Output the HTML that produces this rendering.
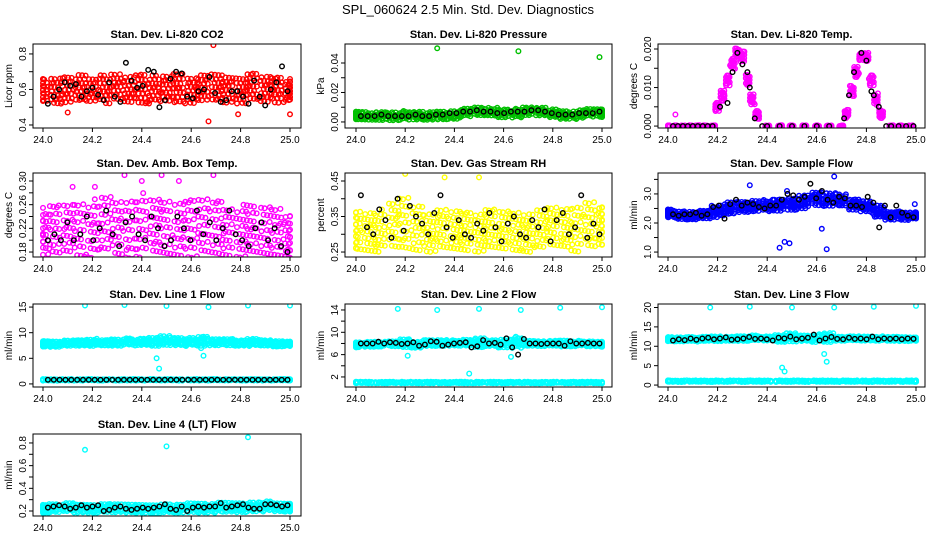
<!DOCTYPE html>
<html><head><meta charset="utf-8"><style>
body{margin:0;background:#fff}
svg{display:block;font-family:"Liberation Sans",sans-serif}
</style></head><body>
<svg id="c" width="936" height="540" xmlns="http://www.w3.org/2000/svg">
<text x="468" y="14" text-anchor="middle" font-size="13">SPL_060624  2.5 Min. Std. Dev. Diagnostics</text>
</svg>
<script>
// ---- data (cluster centres: x, y-mid, y-spread; black points; outliers) ----
const co2CX=[24.0,24.05,24.1,24.15,24.2,24.25,24.3,24.35,24.4,24.45,24.5,24.55,24.6,24.65,24.7,24.75,24.8,24.85,24.9,24.95,25.0];
const co2CY=[0.60,0.60,0.59,0.61,0.60,0.60,0.61,0.60,0.61,0.60,0.60,0.61,0.60,0.60,0.61,0.60,0.60,0.61,0.60,0.60,0.60];
const co2CS=[0.07,0.08,0.08,0.08,0.07,0.08,0.08,0.08,0.09,0.08,0.08,0.09,0.08,0.08,0.08,0.08,0.08,0.08,0.08,0.08,0.06];
const co2Black=[0.52,0.56,0.60,0.64,0.62,0.63,0.56,0.59,0.61,0.57,0.54,0.64,0.56,0.53,0.75,0.65,0.61,0.62,0.71,0.70,0.50,0.54,0.66,0.70,0.69,0.56,0.55,0.59,0.60,0.67,0.58,0.53,0.54,0.59,0.59,0.56,0.52,0.65,0.56,0.51,0.60,0.64,0.73,0.59];
const co2OutX=[24.69,24.67,25.0,24.1,24.79];
const co2OutY=[0.85,0.42,0.46,0.47,0.46];

const prCX=[24.0,24.05,24.1,24.15,24.2,24.25,24.3,24.35,24.4,24.45,24.5,24.55,24.6,24.65,24.7,24.75,24.8,24.85,24.9,24.95,25.0];
const prCY=[0.004,0.004,0.004,0.004,0.0045,0.004,0.004,0.0045,0.005,0.006,0.007,0.007,0.006,0.006,0.007,0.007,0.006,0.005,0.005,0.006,0.006];
const prCS=[0.003,0.003,0.003,0.003,0.003,0.003,0.003,0.003,0.003,0.003,0.003,0.003,0.003,0.003,0.003,0.003,0.003,0.003,0.003,0.003,0.003];
const prBlack=[0.004,0.004,0.004,0.005,0.004,0.004,0.004,0.004,0.005,0.004,0.004,0.005,0.005,0.006,0.006,0.007,0.007,0.008,0.007,0.007,0.006,0.006,0.007,0.007,0.007,0.008,0.008,0.007,0.006,0.005,0.005,0.005,0.006,0.006,0.006,0.007];
const prOutX=[24.33,24.66,24.99];
const prOutY=[0.050,0.048,0.044];

const tpCX=[24.0,24.03,24.06,24.09,24.12,24.15,24.18,24.2,24.22,24.24,24.26,24.28,24.3,24.32,24.34,24.36,24.4,24.45,24.5,24.55,24.6,24.65,24.7,24.72,24.74,24.76,24.78,24.8,24.82,24.84,24.86,24.9,24.94,24.98];
const tpCY=[0,0,0,0,0,0,0,0.005,0.008,0.012,0.016,0.019,0.018,0.012,0.007,0.003,0,0,0,0,0,0,0,0.003,0.009,0.014,0.018,0.018,0.012,0.007,0.003,0,0,0];
const tpCS=[0.0002,0.0002,0.0002,0.0002,0.0002,0.0002,0.0002,0.0012,0.0015,0.0015,0.0015,0.0012,0.0015,0.0015,0.0015,0.0012,0.0002,0.0002,0.0002,0.0002,0.0002,0.0002,0.0002,0.0012,0.0015,0.0015,0.001,0.0012,0.0015,0.0015,0.0012,0.0002,0.0002,0.0002];
const tpBlackX=[24.02,24.04,24.06,24.08,24.1,24.12,24.14,24.16,24.18,24.21,24.24,24.26,24.28,24.3,24.32,24.33,24.35,24.38,24.4,24.45,24.5,24.55,24.6,24.65,24.71,24.73,24.75,24.78,24.8,24.82,24.83,24.85,24.88,24.9,24.93,24.96,24.99];
const tpBlackY=[0,0,0,0,0,0,0,0,0,0.005,0.006,0.014,0.019,0.016,0.014,0.010,0.002,0,0,0,0,0,0,0,0.002,0.008,0.014,0.019,0.017,0.009,0.008,0.005,0,0,0,0,0];
const tpOutX=[24.03];
const tpOutY=[0.003];

const abCX=[24.0,24.05,24.1,24.15,24.2,24.25,24.3,24.35,24.4,24.45,24.5,24.55,24.6,24.65,24.7,24.75,24.8,24.85,24.9,24.95,25.0];
const abCY=[0.215,0.215,0.22,0.22,0.22,0.225,0.22,0.22,0.225,0.22,0.22,0.22,0.225,0.22,0.22,0.215,0.215,0.215,0.215,0.215,0.21];
const abCS=[0.04,0.045,0.045,0.05,0.05,0.05,0.05,0.055,0.055,0.05,0.05,0.05,0.055,0.05,0.05,0.045,0.045,0.045,0.045,0.045,0.04];
const abBlack=[0.20,0.21,0.20,0.23,0.20,0.21,0.24,0.20,0.22,0.25,0.21,0.19,0.23,0.24,0.21,0.20,0.24,0.22,0.19,0.20,0.24,0.22,0.20,0.25,0.21,0.23,0.20,0.22,0.25,0.21,0.20,0.19,0.22,0.23,0.20,0.22,0.19,0.18];
const abOutX=[24.33,24.4,24.48,24.55,24.69,24.12,24.21];
const abOutY=[0.31,0.30,0.31,0.30,0.31,0.29,0.29];

const rhCX=[24.0,24.05,24.1,24.15,24.2,24.25,24.3,24.35,24.4,24.45,24.5,24.55,24.6,24.65,24.7,24.75,24.8,24.85,24.9,24.95,25.0];
const rhCY=[0.31,0.31,0.31,0.32,0.33,0.32,0.31,0.31,0.31,0.31,0.31,0.31,0.31,0.31,0.31,0.31,0.32,0.32,0.32,0.32,0.32];
const rhCS=[0.06,0.06,0.06,0.07,0.08,0.07,0.06,0.06,0.06,0.06,0.06,0.06,0.06,0.06,0.06,0.06,0.06,0.06,0.07,0.07,0.06];
const rhBlack=[0.41,0.32,0.30,0.37,0.34,0.29,0.40,0.31,0.38,0.35,0.33,0.30,0.36,0.41,0.32,0.29,0.34,0.30,0.29,0.33,0.31,0.36,0.32,0.28,0.33,0.35,0.30,0.29,0.34,0.32,0.37,0.28,0.34,0.36,0.30,0.32,0.41,0.29,0.33,0.30];
const rhOutX=[24.2,24.5,24.36];
const rhOutY=[0.47,0.46,0.46];

const sfCX=[24.0,24.05,24.1,24.15,24.2,24.25,24.3,24.35,24.4,24.45,24.5,24.55,24.6,24.65,24.7,24.75,24.8,24.85,24.9,24.95,25.0];
const sfCY=[2.35,2.25,2.25,2.3,2.4,2.5,2.55,2.6,2.6,2.6,2.65,2.75,2.8,2.8,2.8,2.65,2.55,2.4,2.25,2.25,2.25];
const sfCS=[0.15,0.15,0.15,0.15,0.2,0.22,0.2,0.2,0.2,0.22,0.22,0.25,0.25,0.25,0.22,0.2,0.2,0.22,0.15,0.15,0.12];
const sfBlack=[2.3,2.25,2.3,2.3,2.35,2.25,2.3,2.55,2.6,2.15,2.65,2.8,2.6,2.7,2.65,2.55,2.5,2.6,2.6,2.8,3.0,2.95,2.8,2.9,3.35,2.85,3.1,2.8,2.7,2.9,2.85,2.6,2.6,2.55,2.9,2.7,1.85,2.6,2.2,2.6,2.35,2.25,2.2];
const sfOutX=[24.33,24.45,24.47,24.49,24.62,24.64,24.67,24.995,24.48];
const sfOutY=[3.3,1.15,1.35,1.3,1.8,1.1,3.6,2.65,3.1];

const l1CX=[24.0,24.05,24.1,24.15,24.2,24.25,24.3,24.35,24.4,24.45,24.5,24.55,24.6,24.65,24.7,24.75,24.8,24.85,24.9,24.95,25.0];
const l1CY=[7.8,7.8,7.9,8.0,8.1,8.0,8.1,8.2,8.2,8.3,8.4,8.3,8.2,8.3,8.2,8.1,8.0,8.1,8.0,7.9,7.8];
const l1CS=[0.6,0.6,0.6,0.6,0.7,0.6,0.7,0.7,0.7,0.9,1.0,0.8,0.8,1.0,0.7,0.7,0.6,0.7,0.6,0.6,0.5];
const l1LowY=[0.8,0.8,0.8,0.8,0.8,0.8,0.8,0.8,0.8,0.8,0.8,0.8,0.8,0.8,0.8,0.8,0.8,0.8,0.8,0.8,0.8];
const l1Black=[0.8,0.8,0.8,0.8,0.8,0.8,0.8,0.8,0.8,0.8,0.8,0.8,0.8,0.8,0.8,0.8,0.8,0.8,0.8,0.8,0.8,0.8,0.8,0.8,0.8,0.8,0.8,0.8,0.8,0.8,0.8,0.8,0.8,0.8,0.8,0.8,0.8,0.8,0.8,0.8,0.8,0.8];
const l1OutX=[24.17,24.33,24.5,24.67,24.83,25.0,24.47,24.46,24.65,24.64];
const l1OutY=[15.3,15.4,15.2,15.0,15.3,15.3,3.0,5.0,5.5,7.0];

const l2CX=l1CX;
const l2CY=[7.8,7.8,7.9,8.0,8.0,7.8,8.0,8.1,8.1,8.1,8.2,8.0,8.0,8.2,8.0,8.0,8.0,8.0,8.0,7.9,7.9];
const l2CS=[0.5,0.5,0.5,0.5,0.8,0.6,0.6,0.6,0.5,0.6,0.9,0.6,0.8,1.0,0.5,0.5,0.5,0.6,0.5,0.5,0.5];
const l2LowY=[1.0,1.0,1.0,1.0,1.0,1.0,1.0,1.0,1.0,1.0,1.0,1.0,1.0,1.0,1.0,1.0,1.0,1.0,1.0,1.0,1.0];
const l2Black=[8.0,8.0,8.0,8.3,8.0,8.2,8.1,7.9,8.0,8.2,7.6,7.8,8.4,8.3,7.6,7.8,8.0,8.1,8.2,7.3,7.5,8.6,8.0,8.1,7.8,8.9,7.3,6.0,8.8,8.0,8.0,7.9,8.0,8.0,8.0,7.6,8.4,8.0,8.0,8.1,8.0,8.0];
const l2OutX=[24.17,24.33,24.5,24.67,24.83,25.0,24.46,24.21,24.63];
const l2OutY=[14.2,14.0,14.2,14.0,14.4,14.5,2.6,5.8,5.6];

const l3CX=l1CX;
const l3CY=[11.8,11.8,11.8,11.9,12.0,11.9,12.0,12.1,12.0,12.1,12.2,12.1,12.1,12.2,12.0,12.0,12.0,12.0,11.9,11.9,11.8];
const l3CS=[0.6,0.6,0.6,0.6,0.7,0.6,0.7,0.7,0.6,1.0,1.2,0.8,1.0,1.3,0.6,0.6,0.6,0.6,0.6,0.6,0.5];
const l3LowY=[1.0,1.0,1.0,1.0,1.0,1.0,1.0,1.0,1.0,1.0,1.0,1.0,1.0,1.0,1.0,1.0,1.0,1.0,1.0,1.0,1.0];
const l3Black=[11.5,11.8,11.6,12.0,11.7,12.0,12.2,11.8,12.0,12.3,11.7,11.8,12.0,12.4,11.9,12.0,11.8,11.5,12.2,12.0,12.5,11.8,12.0,12.2,13.0,11.5,12.0,12.4,11.9,11.8,12.2,11.9,12.0,11.8,12.5,11.8,12.0,11.9,12.0,11.8,12.0,11.9];
const l3OutX=[24.17,24.33,24.5,24.67,24.83,25.0,24.47,24.46,24.64,24.63];
const l3OutY=[20.0,20.2,20.0,20.0,20.2,20.4,3.5,4.5,6.0,8.0];

const l4CX=l1CX;
const l4CY=[0.22,0.23,0.23,0.22,0.22,0.23,0.22,0.22,0.22,0.22,0.22,0.22,0.23,0.23,0.23,0.23,0.23,0.24,0.24,0.23,0.23];
const l4CS=[0.04,0.04,0.04,0.04,0.04,0.04,0.04,0.04,0.04,0.04,0.04,0.04,0.045,0.045,0.045,0.045,0.045,0.045,0.045,0.04,0.04];
const l4Black=[0.23,0.24,0.25,0.24,0.22,0.23,0.25,0.23,0.24,0.25,0.20,0.21,0.23,0.24,0.22,0.21,0.22,0.23,0.22,0.23,0.24,0.26,0.22,0.21,0.24,0.20,0.23,0.24,0.23,0.24,0.24,0.27,0.23,0.24,0.25,0.26,0.23,0.22,0.22,0.26,0.26,0.25,0.24,0.25];
const l4OutX=[24.17,24.5,24.83];
const l4OutY=[0.74,0.77,0.85];

// ---- layout ----
const svg=document.getElementById('c');
const NS='http://www.w3.org/2000/svg';
const cols=[{bl:33,br:301,x0:43,x1:290},{bl:345,br:612,x0:356,x1:602},{bl:658,br:925,x0:668,x1:916}];
const rows=[{t:44,b:128},{t:173,b:257},{t:304,b:387},{t:434,b:516}];
const xTicks=[24.0,24.2,24.4,24.6,24.8,25.0];
const xLabels=['24.0','24.2','24.4','24.6','24.8','25.0'];
// scatter texture pattern (style only)
const JN=997;const jit=[];
for(let i=0;i<JN;i++){jit.push([((i*0.7548776662+0.5)%1)*2-1,((i*0.5698402910+0.5)%1)*2-1]);}

const panels=[
 {id:'co2',c:0,r:0,title:'Stan. Dev. Li-820 CO2',yl:'Licor ppm',ylim:[0.383,0.856],ticks:[0.4,0.5,0.6,0.7,0.8],labs:['0.4','','0.6','','0.8'],col:'#ff0000',cx:co2CX,cy:co2CY,cs:co2CS,bx:null,by:co2Black,ox:co2OutX,oy:co2OutY,dens:24},
 {id:'pressure',c:1,r:0,title:'Stan. Dev. Li-820 Pressure',yl:'kPa',ylim:[-0.0041,0.0529],ticks:[0,0.01,0.02,0.03,0.04],labs:['0.00','','0.02','','0.04'],col:'#00c000',cx:prCX,cy:prCY,cs:prCS,bx:null,by:prBlack,ox:prOutX,oy:prOutY,dens:20},
 {id:'temp',c:2,r:0,title:'Stan. Dev. Li-820 Temp.',yl:'degrees C',ylim:[-0.0005,0.0213],ticks:[0,0.005,0.01,0.015,0.02],labs:['0.000','','0.010','','0.020'],col:'#ff00ff',cx:tpCX,cy:tpCY,cs:tpCS,bx:tpBlackX,by:tpBlackY,ox:tpOutX,oy:tpOutY,dens:14,xw:0.02},
 {id:'ambbox',c:0,r:1,title:'Stan. Dev. Amb. Box Temp.',yl:'degrees C',ylim:[0.1716,0.3135],ticks:[0.18,0.2,0.22,0.24,0.26,0.28,0.3],labs:['0.18','','0.22','','0.26','','0.30'],col:'#ff00ff',cx:abCX,cy:abCY,cs:abCS,bx:null,by:abBlack,ox:abOutX,oy:abOutY,dens:22},
 {id:'gasrh',c:1,r:1,title:'Stan. Dev. Gas Stream RH',yl:'percent',ylim:[0.236,0.4725],ticks:[0.25,0.3,0.35,0.4,0.45],labs:['0.25','','0.35','','0.45'],col:'#ffff00',cx:rhCX,cy:rhCY,cs:rhCS,bx:null,by:rhBlack,ox:rhOutX,oy:rhOutY,dens:22},
 {id:'sampleflow',c:2,r:1,title:'Stan. Dev. Sample Flow',yl:'ml/min',ylim:[0.83,3.72],ticks:[1,1.5,2,2.5,3,3.5],labs:['1.0','','2.0','','3.0',''],col:'#0000ff',cx:sfCX,cy:sfCY,cs:sfCS,bx:null,by:sfBlack,ox:sfOutX,oy:sfOutY,dens:24},
 {id:'line1',c:0,r:2,title:'Stan. Dev. Line 1 Flow',yl:'ml/min',ylim:[-0.6,15.6],ticks:[0,5,10,15],labs:['0','5','10','15'],col:'#00ffff',cx:l1CX,cy:l1CY,cs:l1CS,low:l1LowY,bx:null,by:l1Black,ox:l1OutX,oy:l1OutY,dens:22},
 {id:'line2',c:1,r:2,title:'Stan. Dev. Line 2 Flow',yl:'ml/min',ylim:[0.2,15.07],ticks:[2,4,6,8,10,12,14],labs:['2','','6','','10','','14'],col:'#00ffff',cx:l2CX,cy:l2CY,cs:l2CS,low:l2LowY,bx:null,by:l2Black,ox:l2OutX,oy:l2OutY,dens:22},
 {id:'line3',c:2,r:2,title:'Stan. Dev. Line 3 Flow',yl:'ml/min',ylim:[-0.5,20.9],ticks:[0,5,10,15,20],labs:['0','5','10','15','20'],col:'#00ffff',cx:l3CX,cy:l3CY,cs:l3CS,low:l3LowY,bx:null,by:l3Black,ox:l3OutX,oy:l3OutY,dens:22},
 {id:'line4',c:0,r:3,title:'Stan. Dev. Line 4 (LT) Flow',yl:'ml/min',ylim:[0.156,0.879],ticks:[0.2,0.3,0.4,0.5,0.6,0.7,0.8],labs:['0.2','','0.4','','0.6','','0.8'],col:'#00ffff',cx:l4CX,cy:l4CY,cs:l4CS,bx:null,by:l4Black,ox:l4OutX,oy:l4OutY,dens:22}
];

function mk(tag,attrs,parent){const e=document.createElementNS(NS,tag);for(const k in attrs)e.setAttribute(k,attrs[k]);(parent||svg).appendChild(e);return e;}

panels.forEach((p,pi)=>{
  const C=cols[p.c],R=rows[p.r];
  const g=mk('g',{});
  
  
  const X=v=>C.x0+(v-24)*(C.x1-C.x0);
  const Y=v=>R.b-(v-p.ylim[0])/(p.ylim[1]-p.ylim[0])*(R.b-R.t);
  const clip='cl'+p.id;
  const cp=mk('clipPath',{id:clip},g);mk('rect',{x:C.bl,y:R.t,width:C.br-C.bl,height:R.b-R.t},cp);
  const pts=mk('g',{'clip-path':'url(#'+clip+')'},g);
  
  
  const circ=(x,y,col,name)=>{const e=mk('circle',{cx:X(x).toFixed(1),cy:Y(y).toFixed(1),r:2.3,fill:'none',stroke:col,'stroke-width':1.4},pts);
    
    };
  const xw=p.xw||0.05;
  let n=pi*131;
  p.cx.forEach((cx,i)=>{
    for(let k=0;k<p.dens;k++){const j=jit[(n++)%JN];
      const xx=Math.max(24,Math.min(25,cx+j[0]*xw/2));
      circ(xx,p.cy[i]+j[1]*p.cs[i],p.col,'cloud-point');}
    if(p.low){for(let k=0;k<14;k++){const j=jit[(n++)%JN];
      circ(Math.max(24,Math.min(25,cx+j[0]*xw/2)),p.low[i]+j[1]*0.15*(p.ylim[1]-p.ylim[0])/15,p.col,'low-band-point');}}
  });
  p.ox.forEach((x,i)=>circ(x,p.oy[i],p.col,'outlier-point'));
  p.by.forEach((v,i)=>{const x=p.bx?p.bx[i]:24.02+i*(0.97/(p.by.length-1));circ(x,v,'#000','black-point');});
  const box=mk('rect',{x:C.bl,y:R.t,width:C.br-C.bl,height:R.b-R.t,fill:'none',stroke:'#000','stroke-width':1},g);
  
  
  const t=mk('text',{x:(C.bl+C.br)/2,y:R.t-6,'text-anchor':'middle','font-size':11,'font-weight':'bold'},g);t.textContent=p.title;
  
  
  mk('line',{x1:X(24),x2:X(25),y1:R.b,y2:R.b,stroke:'#000'},g);
  xTicks.forEach((v,i)=>{mk('line',{x1:X(v),x2:X(v),y1:R.b,y2:R.b+4,stroke:'#000'},g);
    const l=mk('text',{x:X(v),y:R.b+15,'text-anchor':'middle','font-size':10},g);l.textContent=xLabels[i];
    
    });
  mk('line',{x1:C.bl,x2:C.bl,y1:Y(p.ticks[0]),y2:Y(p.ticks[p.ticks.length-1]),stroke:'#000'},g);
  p.ticks.forEach((v,i)=>{const y=Y(v);mk('line',{x1:C.bl-4,x2:C.bl,y1:y,y2:y,stroke:'#000'},g);
    if(p.labs[i]){const l=mk('text',{x:C.bl-7,y:y,'text-anchor':'middle','font-size':10,transform:'rotate(-90 '+(C.bl-7)+' '+y+')'},g);l.textContent=p.labs[i];
      
      }});
  const yx=C.bl-21,ym=(R.t+R.b)/2;
  const yl=mk('text',{x:yx,y:ym,'text-anchor':'middle','font-size':10,transform:'rotate(-90 '+yx+' '+ym+')'},g);yl.textContent=p.yl;
  
  
});
</script>
</body></html>
